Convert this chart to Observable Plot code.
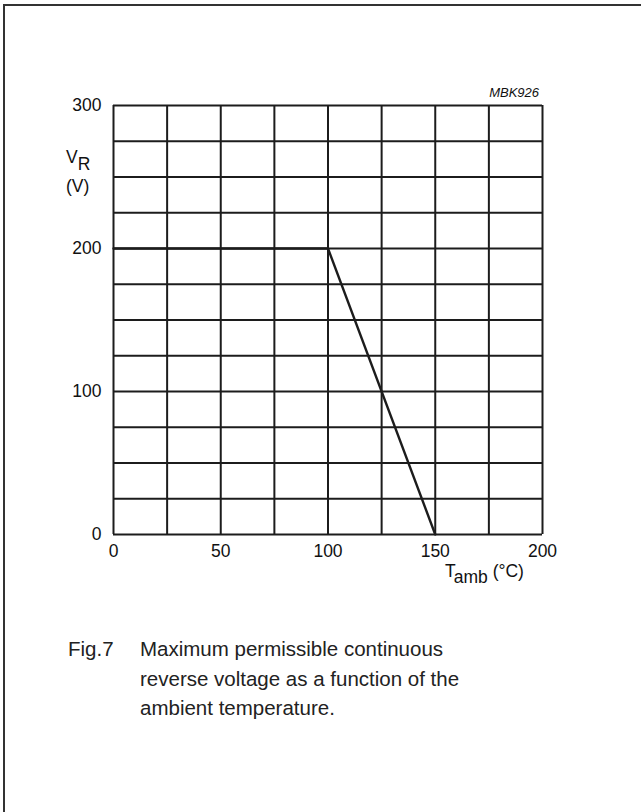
<!DOCTYPE html>
<html>
<head>
<meta charset="utf-8">
<script src="https://cdn.jsdelivr.net/npm/d3@7"></script>
<script src="https://cdn.jsdelivr.net/npm/@observablehq/plot@0.6"></script>
<style>
  html, body { margin: 0; padding: 0; background: #fff; overflow: hidden; }
  #page { position: relative; width: 641px; height: 812px; }
  #border { position: absolute; left: 3px; top: 4px; width: 660px; height: 830px;
            border-top: 2px solid #333; border-left: 2px solid #333; }
  #chart { position: absolute; left: 0; top: 0; }
  #caption { position: absolute; left: 68px; top: 634px; font-family: "Liberation Sans", Arial, sans-serif;
             font-size: 20.5px; line-height: 29.5px; color: #222; }
  #caption .fig { position: absolute; left: 0; top: 0; }
  #caption .txt { position: absolute; left: 72px; top: 0; white-space: nowrap; }
</style>
</head>
<body>
<div id="page">
  <div id="border"></div>
  <div id="chart"></div>
  <div id="caption">
    <div class="fig">Fig.7</div>
    <div class="txt">Maximum permissible continuous<br>reverse voltage as a function of the<br>ambient temperature.</div>
  </div>
</div>
<script>
// Data
const temperature = [0, 100, 150];      // T_amb (°C)
const reverseVoltage = [200, 200, 0];   // V_R (V)
const xTicks = [0, 50, 100, 150, 200];
const yTicks = [0, 100, 200, 300];
const xGrid = [0, 25, 50, 75, 100, 125, 150, 175, 200];
const yGrid = [0, 25, 50, 75, 100, 125, 150, 175, 200, 225, 250, 275, 300];

const curve = temperature.map((t, i) => ({t, v: reverseVoltage[i]}));
const ink = "#1c1c1c";

const plot = Plot.plot({
  width: 641,
  height: 600,
  marginLeft: 113,
  marginRight: 99,
  marginTop: 105,
  marginBottom: 66,
  style: {fontFamily: "'Liberation Sans', Arial, sans-serif", fontSize: "17.5px", color: "#111", background: "transparent"},
  x: {domain: [0, 200]},
  y: {domain: [0, 300]},
  marks: [
    Plot.ruleX(xGrid, {stroke: ink, strokeWidth: 2}),
    Plot.ruleY(yGrid, {stroke: ink, strokeWidth: 2}),
    Plot.line(curve, {x: "t", y: "v", stroke: ink, strokeWidth: 2.4}),
    Plot.axisX({ticks: xTicks, tickSize: 0, tickPadding: 10, label: null, fontSize: 17.5}),
    Plot.axisY({ticks: yTicks, tickSize: 0, tickPadding: 12, label: null, fontSize: 17.5})
  ]
});
document.getElementById("chart").appendChild(plot);

// Axis titles and figure code
const svg = d3.select(plot);
const ff = "'Liberation Sans', Arial, sans-serif";
const vr = svg.append("text").attr("x", 66).attr("y", 163).attr("text-anchor", "start")
  .attr("font-family", ff).attr("font-size", 17.5).attr("fill", "#111");
vr.append("tspan").text("V");
vr.append("tspan").attr("dy", 7).text("R");
svg.append("text").attr("x", 66).attr("y", 192).attr("text-anchor", "start")
  .attr("font-family", ff).attr("font-size", 17.5).attr("fill", "#111").text("(V)");

const ta = svg.append("text").attr("x", 445).attr("y", 577).attr("text-anchor", "start")
  .attr("font-family", ff).attr("font-size", 17.5).attr("fill", "#111");
ta.append("tspan").text("T");
ta.append("tspan").attr("dy", 6).text("amb");
ta.append("tspan").attr("dy", -6).text(" (°C)");

svg.append("text").attr("x", 539).attr("y", 97).attr("text-anchor", "end").attr("font-family", ff)
  .attr("font-style", "italic").attr("font-size", 13).attr("fill", "#111").text("MBK926");
</script>
</body>
</html>
